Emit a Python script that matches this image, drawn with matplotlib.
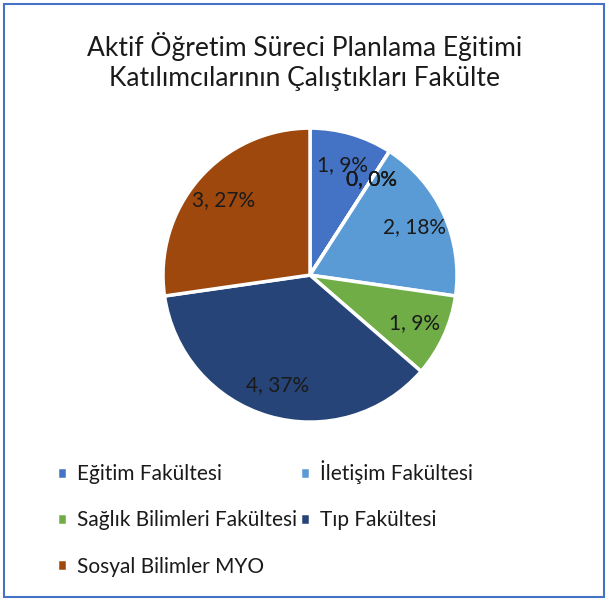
import matplotlib.pyplot as plt
from matplotlib.patches import Rectangle

plt.rcParams['font.family'] = ['Lato', 'DejaVu Sans']

# Data (zero categories are hidden from the legend)
categories = ['Eğitim Fakültesi', 'Diğer 1', 'Diğer 2', 'Diğer 3',
              'İletişim Fakültesi', 'Sağlık Bilimleri Fakültesi',
              'Tıp Fakültesi', 'Sosyal Bilimler MYO']
values = [1, 0, 0, 0, 2, 1, 4, 3]
colors = ['#4472C4', '#ED7D31', '#A5A5A5', '#FFC000',
          '#5B9BD5', '#70AD47', '#264478', '#9E480E']
title = 'Aktif Öğretim Süreci Planlama Eğitimi\nKatılımcılarının Çalıştıkları Fakülte'

total = sum(values)

# whole percentages that add up to 100 (largest remainder, like Excel)
raw = [v * 100 / total for v in values]
pcts = [int(r) for r in raw]
order = sorted(range(len(raw)), key=lambda i: raw[i] - pcts[i], reverse=True)
for i in order[:100 - sum(pcts)]:
    pcts[i] += 1
labels = [f'{v}, {p}%' for v, p in zip(values, pcts)]

fig = plt.figure(figsize=(6.09, 5.99), dpi=100)
ax = fig.add_axes([0.2073, 0.234, 0.6035, 0.6135])

wedges, texts = ax.pie(
    values, colors=colors, startangle=90, counterclock=False,
    labels=labels, labeldistance=0.78,
    wedgeprops=dict(edgecolor='white', linewidth=2.5),
    textprops=dict(fontsize=15, color='#1a1a1a'))
for t in texts:
    t.set_ha('center')
    t.set_va('center')
ax.set_aspect('equal')

fig.text(0.5, 0.897, title, ha='center', va='center', fontsize=19,
         color='#1a1a1a', linespacing=1.25)

idx = [i for i, v in enumerate(values) if v > 0]
idx = idx[0::2] + idx[1::2]  # fill legend row by row
fig.legend([wedges[i] for i in idx], [categories[i] for i in idx],
           loc='upper left', bbox_to_anchor=(0.08, 0.245),
           ncol=2, frameon=False, fontsize=15, handlelength=0.5,
           handleheight=0.5, handletextpad=0.45, columnspacing=0.15,
           labelspacing=1.25, borderaxespad=0, labelcolor='#1a1a1a')

fig.patches.append(Rectangle((0.006, 0.004), 0.986, 0.99, transform=fig.transFigure,
                             fill=False, edgecolor='#4472C4', linewidth=1.5))

fig.savefig('out.png', dpi=100)
